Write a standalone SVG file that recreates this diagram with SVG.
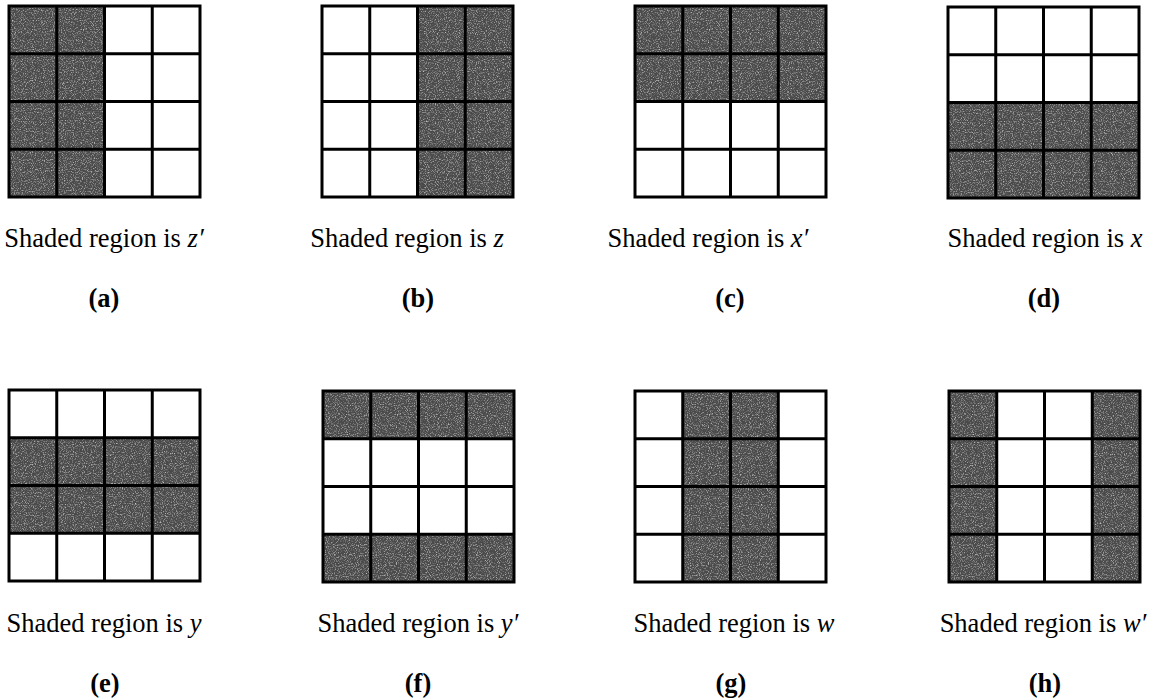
<svg xmlns="http://www.w3.org/2000/svg" xmlns:xlink="http://www.w3.org/1999/xlink" width="1155" height="698" viewBox="0 0 1155 698">
<style>
.cap{font-family:"Liberation Serif","Times New Roman",serif;font-size:26.5px;fill:#000;text-anchor:middle}
.lab{font-family:"Liberation Serif","Times New Roman",serif;font-size:26.5px;font-weight:bold;fill:#000;text-anchor:middle}
.v{font-style:italic}
.sh{fill:#4a4a4a;filter:url(#grain)}
.gl{fill:none;stroke:#000;stroke-width:3}
</style>
<defs>
<filter id="grain" x="0" y="0" width="100%" height="100%" color-interpolation-filters="sRGB">
<feTurbulence type="fractalNoise" baseFrequency="0.9" numOctaves="2" seed="7" result="n"/>
<feColorMatrix in="n" type="matrix" values="0 0 0 0 0.85  0 0 0 0 0.85  0 0 0 0 0.85  2.2 0 0 0 -1.05" result="sp"/>
<feComposite in="sp" in2="SourceGraphic" operator="in" result="spk"/>
<feMerge><feMergeNode in="SourceGraphic"/><feMergeNode in="spk"/></feMerge>
</filter>
<g id="grid">
<rect class="gl" x="0" y="0" width="191" height="191"/>
<path class="gl" d="M47.75 0V191M95.5 0V191M143.25 0V191M0 47.75H191M0 95.5H191M0 143.25H191"/>
</g>
</defs>
<rect width="1155" height="698" fill="#fff"/>

<g id="panel-a">
<g transform="translate(9,6)"><rect class="sh" x="0" y="0" width="95.5" height="191"/><use xlink:href="#grid"/></g>
<text class="cap" x="104" y="247">Shaded region is <tspan class="v">z′</tspan></text>
<text class="lab" x="104" y="307">(a)</text>
</g>

<g id="panel-b">
<g transform="translate(322,6)"><rect class="sh" x="95.5" y="0" width="95.5" height="191"/><use xlink:href="#grid"/></g>
<text class="cap" x="407" y="247">Shaded region is <tspan class="v">z</tspan></text>
<text class="lab" x="418" y="307">(b)</text>
</g>

<g id="panel-c">
<g transform="translate(635,6)"><rect class="sh" x="0" y="0" width="191" height="95.5"/><use xlink:href="#grid"/></g>
<text class="cap" x="708" y="247">Shaded region is <tspan class="v">x′</tspan></text>
<text class="lab" x="730" y="307">(c)</text>
</g>

<g id="panel-d">
<g transform="translate(948,7)"><rect class="sh" x="0" y="95.5" width="191" height="95.5"/><use xlink:href="#grid"/></g>
<text class="cap" x="1045" y="247">Shaded region is <tspan class="v">x</tspan></text>
<text class="lab" x="1044" y="307">(d)</text>
</g>

<g id="panel-e">
<g transform="translate(9,390)"><rect class="sh" x="0" y="47.75" width="191" height="95.5"/><use xlink:href="#grid"/></g>
<text class="cap" x="104" y="632">Shaded region is <tspan class="v">y</tspan></text>
<text class="lab" x="105" y="692">(e)</text>
</g>

<g id="panel-f">
<g transform="translate(323,391)"><rect class="sh" x="0" y="0" width="191" height="47.75"/><rect class="sh" x="0" y="143.25" width="191" height="47.75"/><use xlink:href="#grid"/></g>
<text class="cap" x="418" y="632">Shaded region is <tspan class="v">y′</tspan></text>
<text class="lab" x="418" y="692">(f)</text>
</g>

<g id="panel-g">
<g transform="translate(635,391)"><rect class="sh" x="47.75" y="0" width="95.5" height="191"/><use xlink:href="#grid"/></g>
<text class="cap" x="734" y="632">Shaded region is <tspan class="v">w</tspan></text>
<text class="lab" x="731" y="692">(g)</text>
</g>

<g id="panel-h">
<g transform="translate(949,391)"><rect class="sh" x="0" y="0" width="47.75" height="191"/><rect class="sh" x="143.25" y="0" width="47.75" height="191"/><use xlink:href="#grid"/></g>
<text class="cap" x="1043" y="632">Shaded region is <tspan class="v">w′</tspan></text>
<text class="lab" x="1045" y="692">(h)</text>
</g>

<g id="connectors"></g>
</svg>
